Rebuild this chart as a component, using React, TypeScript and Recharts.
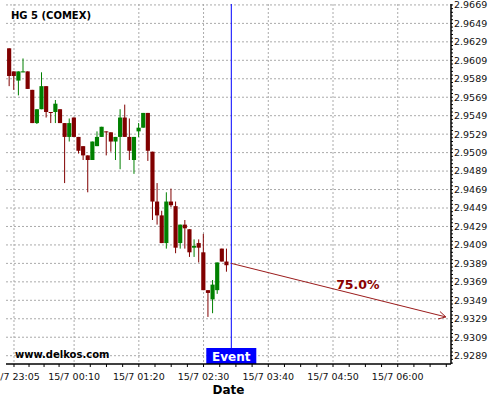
import { ComposedChart, Bar, Line, XAxis, YAxis, CartesianGrid, ReferenceLine } from 'recharts';

// 5-minute candles, HG 5 (COMEX)
const times = [
  '23:00', '23:05', '23:10', '23:15', '23:20', '23:25', '23:30', '23:35', '23:40', '23:45', '23:50', '23:55',
  '00:00', '00:05', '00:10', '00:15', '00:20', '00:25', '00:30', '00:35', '00:40', '00:45', '00:50', '00:55',
  '01:00', '01:05', '01:10', '01:15', '01:20', '01:25', '01:30', '01:35', '01:40', '01:45', '01:50', '01:55',
  '02:00', '02:05', '02:10', '02:15', '02:20', '02:25', '02:30', '02:35', '02:40', '02:45', '02:50', '02:55',
];
const opens = [
  2.9622, 2.9597, 2.9587, 2.9596, 2.9597, 2.9577, 2.9541, 2.9556, 2.9581, 2.9553, 2.9553, 2.9556,
  2.9541, 2.9526, 2.9547, 2.9526, 2.9516, 2.9506, 2.9501, 2.9516, 2.9526, 2.9532, 2.9531, 2.9521,
  2.9526, 2.9547, 2.9526, 2.9501, 2.9532, 2.9536, 2.9552, 2.951, 2.9456, 2.9441, 2.9411, 2.9456,
  2.9451, 2.9411, 2.9431, 2.9426, 2.9406, 2.9411, 2.9401, 2.936, 2.935, 2.936, 2.9405, 2.9391,
];
const highs = [
  2.9622, 2.9597, 2.9597, 2.9611, 2.9597, 2.9577, 2.9556, 2.9596, 2.9581, 2.9553, 2.9566, 2.9556,
  2.9541, 2.9546, 2.9547, 2.9526, 2.9516, 2.9506, 2.9521, 2.9532, 2.9537, 2.9532, 2.9531, 2.9526,
  2.9556, 2.9561, 2.9546, 2.9526, 2.9541, 2.9552, 2.9552, 2.951, 2.9476, 2.9446, 2.9466, 2.947,
  2.9456, 2.9431, 2.9436, 2.9426, 2.9415, 2.9415, 2.9421, 2.936, 2.9371, 2.939, 2.9405, 2.9405,
];
const lows = [
  2.9581, 2.9577, 2.9571, 2.9596, 2.9578, 2.9541, 2.954, 2.9556, 2.9547, 2.9541, 2.9541, 2.9541,
  2.9476, 2.9521, 2.9526, 2.9508, 2.9501, 2.9466, 2.9501, 2.9516, 2.9526, 2.9506, 2.951, 2.9501,
  2.9491, 2.9526, 2.9501, 2.9486, 2.9526, 2.9536, 2.95, 2.9436, 2.9431, 2.9411, 2.9405, 2.945,
  2.94, 2.9405, 2.9405, 2.9396, 2.9396, 2.939, 2.936, 2.9331, 2.9335, 2.9356, 2.9391, 2.938,
];
const closes = [
  2.9592, 2.9592, 2.9597, 2.9597, 2.9578, 2.9541, 2.9556, 2.9581, 2.9553, 2.9552, 2.9562, 2.9541,
  2.9526, 2.9541, 2.9526, 2.9511, 2.9506, 2.9501, 2.9521, 2.9526, 2.9537, 2.9531, 2.9521, 2.9526,
  2.9547, 2.9526, 2.9511, 2.9526, 2.9536, 2.9552, 2.9511, 2.9456, 2.9441, 2.9411, 2.9456, 2.9452,
  2.9406, 2.9431, 2.9427, 2.9401, 2.9408, 2.9406, 2.936, 2.9357, 2.9366, 2.939, 2.9391, 2.9387,
];

const tickTimes = ['23:05', '00:10', '01:20', '02:30', '03:40', '04:50', '06:00'];
const priceTicks = [
  2.9289, 2.9309, 2.9329, 2.9349, 2.9369, 2.9389, 2.9409, 2.9429, 2.9449, 2.9469,
  2.9489, 2.9509, 2.9529, 2.9549, 2.9569, 2.9589, 2.9609, 2.9629, 2.9649, 2.9669,
];

const eventTime = '03:00';
const arrowTimes = ['03:00', '06:52'];
const arrowPrices = [2.9389, 2.9331];
const arrowLabel = '75.0%';

const RED = '#800000';
const GREEN = '#008000';
const FONT = 'DejaVu Sans, Verdana, sans-serif';

// minutes after 23:05 (night wraps past midnight)
const toMin = (s: string) => {
  const [h, m] = s.split(':').map(Number);
  const v = h * 60 + m;
  return h >= 12 ? v - 1385 : v + 55;
};

const candles = times.map((s, i) => ({ t: toMin(s), o: opens[i], h: highs[i], l: lows[i], c: closes[i] }));
const arrowData = arrowTimes.map((s, i) => ({ t: toMin(s), v: arrowPrices[i] }));

const majorX = tickTimes.map(toMin);
const xTicks: number[] = [];
majorX.forEach((t, i) => {
  const step = ((i < majorX.length - 1 ? majorX[i + 1] : t) - (i > 0 && i === majorX.length - 1 ? majorX[i - 1] : t)) / 4;
  xTicks.push(t);
  for (let k = 1; k <= 3; k++) xTicks.push(t + k * step);
});
const xLabel = (v: number) => {
  const i = majorX.indexOf(v);
  return i >= 0 ? `15/7 ${tickTimes[i]}` : '';
};

const yTicks: number[] = [];
for (let k = 0; k <= 97; k++) yTicks.push(Math.round((2.9281 + k * 0.0004) * 1e4) / 1e4);
const yLabel = (v: number) => (priceTicks.some(p => Math.abs(p - v) < 1e-6) ? v.toFixed(4) : '');

const Candle = (props: any) => {
  const { x, y, width, height, payload } = props;
  const { o, h, l, c } = payload;
  const color = c >= o ? GREEN : RED;
  const k = height / (h - l);
  const top = y + (h - Math.max(o, c)) * k;
  const bot = y + (h - Math.min(o, c)) * k;
  const cx = x + width / 2;
  return (
    <g>
      <line x1={cx} x2={cx} y1={y} y2={y + height} stroke={color} strokeWidth={1} />
      <rect x={x} y={top} width={width} height={Math.max(bot - top, 1)} fill={color} />
    </g>
  );
};

let arrowStart = { x: 0, y: 0 };
const ArrowDot = (props: any) => {
  const { cx, cy, index, points } = props;
  if (index === 0) {
    arrowStart = { x: cx, y: cy };
    return <g key="a0" />;
  }
  const p0 = points && points[0] ? points[0] : arrowStart;
  const ang = Math.atan2(cy - p0.y, cx - p0.x);
  const len = 8;
  const sp = 0.5;
  const a = `${cx - len * Math.cos(ang - sp)},${cy - len * Math.sin(ang - sp)}`;
  const b = `${cx - len * Math.cos(ang + sp)},${cy - len * Math.sin(ang + sp)}`;
  const mx = p0.x + (cx - p0.x) * 0.59;
  const my = p0.y + (cy - p0.y) * 0.59;
  return (
    <g key="a1">
      <polyline points={`${a} ${cx},${cy} ${b}`} fill="none" stroke="#9b1c1c" strokeWidth={1} />
      <text x={mx} y={my - 5.5} textAnchor="middle" fontSize={12.5} fontWeight="bold" fontFamily={FONT} fill="#8b0000">
        {arrowLabel}
      </text>
    </g>
  );
};

const EventTag = (props: any) => {
  const { x, y, height } = props.viewBox;
  const bottom = y + height;
  return (
    <g>
      <rect x={x - 25} y={bottom - 16} width={50} height={16} fill="#0000ff" />
      <text x={x} y={bottom - 3.5} textAnchor="middle" fontSize={12} fontWeight="bold" fontFamily={FONT} fill="#fff">
        Event
      </text>
    </g>
  );
};

const DateLabel = (props: any) => {
  const { x, y, width } = props.viewBox;
  return (
    <text x={x + width / 2} y={y + 30} textAnchor="middle" fontSize={12} fontWeight="bold" fontFamily={FONT} fill="#000">
      Date
    </text>
  );
};

export default function App() {
  return (
    <div style={{ position: 'absolute', left: 0, top: 0, width: 500, height: 400, background: '#fff' }}>
      <ComposedChart width={500} height={400} data={candles} margin={{ top: 4, right: 0, bottom: 0, left: 6 }}>
        <CartesianGrid
          stroke="#aaaaaa"
          strokeDasharray="2 2"
          horizontalValues={priceTicks}
          verticalValues={majorX}
        />
        <XAxis
          type="number"
          dataKey="t"
          domain={[-8.65, 472.6]}
          ticks={xTicks}
          interval={0}
          tickFormatter={xLabel}
          height={36}
          tickSize={3}
          tickMargin={6}
          axisLine={{ stroke: '#000', strokeWidth: 1.5 }}
          tickLine={{ stroke: '#000' }}
          tick={{ fontSize: 9.5, fill: '#111', fontFamily: FONT }}
          allowDataOverflow
          label={{ content: DateLabel }}
        />
        <YAxis
          orientation="right"
          type="number"
          domain={[2.928, 2.967]}
          ticks={yTicks}
          interval={0}
          tickFormatter={yLabel}
          width={49}
          tickSize={2}
          tickMargin={1}
          axisLine={{ stroke: '#000', strokeWidth: 1.5 }}
          tickLine={{ stroke: '#000' }}
          tick={{ fontSize: 9.5, fill: '#111', fontFamily: FONT }}
          allowDataOverflow
        />
        <Bar dataKey={(d: any) => [d.l, d.h]} barSize={4.8} shape={Candle} isAnimationActive={false} />
        <ReferenceLine x={toMin(eventTime)} stroke="#0000ff" strokeWidth={1} label={{ content: EventTag }} />
        <Line
          data={arrowData}
          dataKey="v"
          stroke="#9b1c1c"
          strokeWidth={1}
          dot={ArrowDot}
          activeDot={false}
          isAnimationActive={false}
        />
      </ComposedChart>
      <svg width={500} height={400} style={{ position: 'absolute', left: 0, top: 0, pointerEvents: 'none' }}>
        <text x={11} y={19} fontSize={10} fontWeight="bold" fontFamily={FONT} fill="#000">
          HG 5 (COMEX)
        </text>
        <text x={15} y={357.5} fontSize={10} fontWeight="bold" fontFamily={FONT} fill="#000">
          www.delkos.com
        </text>
      </svg>
    </div>
  );
}
